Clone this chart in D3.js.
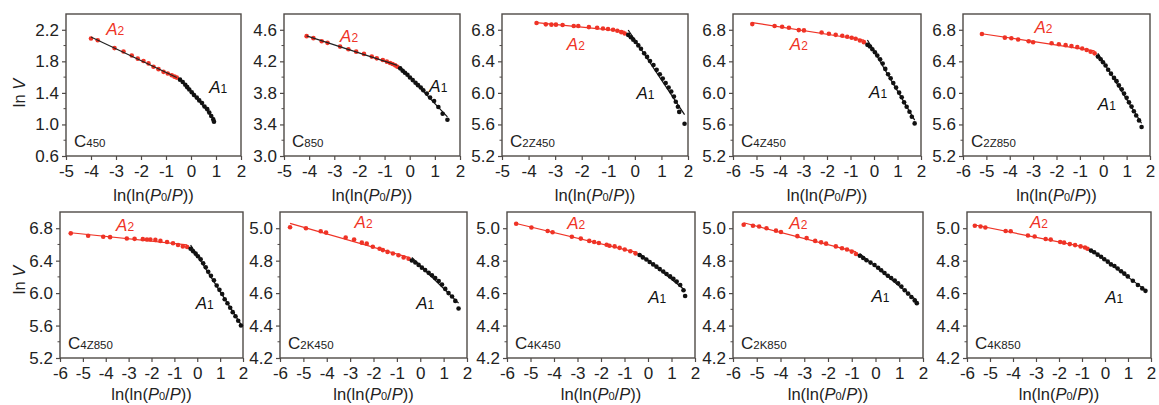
<!DOCTYPE html>
<html>
<head>
<meta charset="utf-8">
<script src="https://cdn.jsdelivr.net/npm/d3@7"></script>
<style>
  body { margin: 0; background: #fff; }
  svg { display: block; font-family: "Liberation Sans", Arial, sans-serif; }
</style>
</head>
<body>
<svg id="chart" width="1159" height="405"></svg>
<script>
// sample names (C + suffix)
const sampleNames = ["450", "850", "2Z450", "4Z450", "2Z850", "4Z850", "2K450", "4K450", "2K850", "4K850"];

// ln(ln(P0/P)) vs ln V, region A2 (red) and A1 (black)
const c450A2 = [[-4.0,2.09],[-3.73,2.067],[-3.06,1.968],[-2.70,1.925],[-2.37,1.873],[-2.13,1.834],[-1.90,1.804],[-1.70,1.774],[-1.50,1.731],[-1.30,1.701],[-1.10,1.667],[-0.93,1.645],[-0.77,1.624],[-0.66,1.606],[-0.57,1.594]];
const c450A1 = [[-0.44,1.568],[-0.33,1.538],[-0.23,1.503],[-0.15,1.473],[-0.07,1.443],[0.03,1.409],[0.12,1.374],[0.23,1.340],[0.33,1.305],[0.44,1.271],[0.54,1.228],[0.65,1.194],[0.73,1.150],[0.81,1.107],[0.89,1.064],[0.92,1.034]];
const c850A2 = [[-4.10,4.519],[-3.83,4.494],[-3.50,4.455],[-3.27,4.434],[-2.77,4.387],[-2.44,4.353],[-2.13,4.323],[-1.82,4.294],[-1.51,4.260],[-1.31,4.238],[-1.07,4.217],[-0.91,4.196],[-0.78,4.179],[-0.68,4.166],[-0.58,4.149],[-0.49,4.132]];
const c850A1 = [[-0.38,4.111],[-0.28,4.081],[-0.19,4.055],[-0.09,4.030],[0.01,3.996],[0.12,3.962],[0.23,3.928],[0.33,3.898],[0.44,3.868],[0.54,3.834],[0.68,3.791],[0.81,3.740],[0.97,3.698],[1.14,3.621],[1.31,3.536],[1.50,3.460]];
const c2z450A2 = [[-3.70,6.886],[-3.35,6.869],[-3.14,6.865],[-2.97,6.865],[-2.72,6.860],[-2.30,6.847],[-2.13,6.847],[-1.73,6.834],[-1.42,6.826],[-1.20,6.817],[-1.01,6.809],[-0.82,6.800],[-0.66,6.787],[-0.51,6.770],[-0.38,6.753]];
const c2z450A1 = [[-0.25,6.735],[-0.15,6.705],[-0.06,6.675],[0.03,6.645],[0.13,6.602],[0.23,6.559],[0.35,6.503],[0.46,6.456],[0.57,6.404],[0.70,6.353],[0.82,6.292],[0.94,6.237],[1.05,6.181],[1.16,6.125],[1.27,6.069],[1.37,6.017],[1.47,5.953],[1.54,5.888],[1.62,5.824],[1.67,5.759],[1.87,5.609]];
const c4z450A2 = [[-5.18,6.872],[-4.23,6.847],[-3.91,6.838],[-3.62,6.825],[-3.20,6.796],[-2.98,6.792],[-2.23,6.766],[-1.92,6.749],[-1.63,6.736],[-1.35,6.724],[-1.14,6.711],[-0.95,6.698],[-0.78,6.686],[-0.60,6.664],[-0.43,6.643]];
const c4z450A1 = [[-0.28,6.609],[-0.17,6.588],[-0.07,6.554],[0.04,6.516],[0.14,6.473],[0.26,6.427],[0.37,6.372],[0.48,6.304],[0.60,6.236],[0.71,6.185],[0.82,6.126],[0.94,6.067],[1.07,6.003],[1.18,5.944],[1.28,5.880],[1.39,5.825],[1.51,5.761],[1.61,5.698],[1.73,5.613]];
const c2z850A2 = [[-5.19,6.746],[-4.21,6.700],[-3.93,6.692],[-3.64,6.676],[-3.19,6.655],[-3.00,6.642],[-2.21,6.630],[-1.90,6.617],[-1.61,6.605],[-1.36,6.593],[-1.11,6.580],[-0.90,6.563],[-0.71,6.543],[-0.54,6.522],[-0.37,6.501]];
const c2z850A1 = [[-0.23,6.460],[-0.11,6.427],[-0.01,6.389],[0.10,6.348],[0.21,6.294],[0.33,6.244],[0.46,6.190],[0.57,6.149],[0.67,6.095],[0.79,6.045],[0.89,5.991],[1.00,5.937],[1.10,5.880],[1.21,5.826],[1.31,5.768],[1.41,5.713],[1.53,5.651],[1.64,5.568]];
const c4z850A2 = [[-5.53,6.737],[-4.77,6.707],[-4.11,6.694],[-3.81,6.690],[-3.08,6.673],[-2.74,6.669],[-2.38,6.665],[-2.20,6.661],[-2.05,6.661],[-1.83,6.656],[-1.61,6.644],[-1.32,6.631],[-1.06,6.614],[-0.84,6.593],[-0.63,6.576],[-0.44,6.568]];
const c4z850A1 = [[-0.29,6.547],[-0.18,6.517],[-0.07,6.487],[0.03,6.454],[0.15,6.416],[0.26,6.369],[0.37,6.318],[0.48,6.263],[0.60,6.213],[0.73,6.158],[0.85,6.094],[0.97,6.040],[1.09,5.989],[1.20,5.925],[1.32,5.875],[1.44,5.820],[1.55,5.765],[1.67,5.714],[1.79,5.659],[1.91,5.600]];
const c2k450A2 = [[-5.57,5.006],[-4.89,5.000],[-4.26,4.981],[-4.03,4.973],[-3.19,4.943],[-2.83,4.930],[-2.50,4.911],[-2.29,4.905],[-2.03,4.886],[-1.74,4.873],[-1.60,4.865],[-1.40,4.854],[-1.17,4.844],[-0.93,4.833],[-0.71,4.820],[-0.50,4.812]];
const c2k450A1 = [[-0.36,4.801],[-0.21,4.789],[-0.07,4.774],[0.07,4.757],[0.21,4.742],[0.36,4.725],[0.50,4.710],[0.64,4.693],[0.79,4.674],[0.93,4.653],[1.07,4.626],[1.21,4.600],[1.36,4.579],[1.50,4.552],[1.64,4.505]];
const c4k450A2 = [[-5.61,5.028],[-4.96,5.004],[-4.27,4.983],[-4.06,4.975],[-3.24,4.947],[-2.86,4.936],[-2.50,4.922],[-2.29,4.915],[-2.09,4.909],[-1.76,4.898],[-1.64,4.892],[-1.42,4.888],[-1.21,4.879],[-0.99,4.869],[-0.75,4.858],[-0.53,4.845]];
const c4k450A1 = [[-0.36,4.835],[-0.22,4.820],[-0.07,4.807],[0.07,4.792],[0.22,4.777],[0.36,4.763],[0.50,4.748],[0.65,4.733],[0.79,4.718],[0.94,4.703],[1.08,4.688],[1.22,4.671],[1.37,4.650],[1.51,4.618],[1.58,4.582]];
const c2k850A2 = [[-5.55,5.021],[-5.16,5.015],[-4.90,5.011],[-4.59,5.000],[-4.19,4.985],[-3.98,4.977],[-3.29,4.951],[-2.90,4.939],[-2.54,4.922],[-2.29,4.913],[-2.08,4.905],[-1.67,4.888],[-1.41,4.877],[-1.20,4.869],[-1.00,4.856],[-0.82,4.841]];
const c2k850A1 = [[-0.66,4.830],[-0.52,4.816],[-0.38,4.803],[-0.21,4.788],[-0.04,4.773],[0.11,4.756],[0.24,4.741],[0.38,4.724],[0.52,4.707],[0.66,4.693],[0.81,4.678],[0.95,4.661],[1.09,4.640],[1.23,4.618],[1.37,4.597],[1.51,4.576],[1.65,4.555],[1.74,4.538]];
const c4k850A2 = [[-5.66,5.015],[-5.41,5.011],[-5.20,5.004],[-4.32,4.983],[-4.10,4.981],[-3.35,4.955],[-3.06,4.949],[-2.58,4.934],[-2.36,4.930],[-1.95,4.915],[-1.78,4.911],[-1.53,4.902],[-1.30,4.896],[-1.06,4.888],[-0.87,4.881],[-0.76,4.873]];
const c4k850A1 = [[-0.61,4.862],[-0.47,4.852],[-0.32,4.837],[-0.17,4.824],[-0.03,4.809],[0.12,4.794],[0.26,4.777],[0.41,4.767],[0.55,4.752],[0.70,4.735],[0.84,4.720],[0.99,4.703],[1.21,4.676],[1.43,4.650],[1.62,4.629],[1.76,4.614]];

const seriesA2 = [c450A2, c850A2, c2z450A2, c4z450A2, c2z850A2, c4z850A2, c2k450A2, c4k450A2, c2k850A2, c4k850A2];
const seriesA1 = [c450A1, c850A1, c2z450A1, c4z450A1, c2z850A1, c4z850A1, c2k450A1, c4k450A1, c2k850A1, c4k850A1];

// axis ranges and tick labels
const xDomains = [[-5, 2], [-5, 2], [-5, 2], [-6, 2], [-6, 2], [-6, 2], [-6, 2], [-6, 2], [-6, 2], [-6, 2]];
const yDomains = [[0.6, 2.4], [3.0, 4.8], [5.2, 7.0], [5.2, 7.0], [5.2, 7.0], [5.2, 7.0], [4.2, 5.1], [4.2, 5.1], [4.2, 5.1], [4.2, 5.1]];
const yTickLabels = [
  [0.6, 1.0, 1.4, 1.8, 2.2], [3.0, 3.4, 3.8, 4.2, 4.6],
  [5.2, 5.6, 6.0, 6.4, 6.8], [5.2, 5.6, 6.0, 6.4, 6.8], [5.2, 5.6, 6.0, 6.4, 6.8], [5.2, 5.6, 6.0, 6.4, 6.8],
  [4.2, 4.4, 4.6, 4.8, 5.0], [4.2, 4.4, 4.6, 4.8, 5.0], [4.2, 4.4, 4.6, 4.8, 5.0], [4.2, 4.4, 4.6, 4.8, 5.0]
];

// layout: plot boxes in page pixels, and where the A2 / A1 labels sit (data coords)
const boxes = [
  [66, 241, 14, 156], [284, 460, 14, 156], [502, 688, 14, 156], [733, 921, 14, 156], [963, 1150, 14, 156],
  [60, 243, 212, 358], [280, 467, 212, 358], [507, 695, 212, 358], [733, 923, 212, 358], [967, 1151, 212, 358]
];
const a2Labels = [[-3.39, 2.13], [-2.77, 4.45], [-2.56, 6.54], [-3.58, 6.55], [-2.94, 6.76], [-3.55, 6.76], [-2.81, 5.0], [-3.44, 4.995], [-3.63, 4.995], [-3.26, 5.004]];
const a1Labels = [[0.73, 1.40], [0.78, 3.81], [0.06, 5.92], [-0.21, 5.93], [-0.23, 5.78], [-0.07, 5.81], [-0.17, 4.503], [0.01, 4.538], [-0.17, 4.544], [0.01, 4.538]];

const red = "#ef3326";
const frameColor = "#4f4a47";

const svg = d3.select("#chart");

function fit(points) {
  const mx = d3.mean(points, d => d[0]);
  const my = d3.mean(points, d => d[1]);
  const sxy = d3.sum(points, d => (d[0] - mx) * (d[1] - my));
  const sxx = d3.sum(points, d => (d[0] - mx) ** 2);
  const k = sxy / sxx;
  const [x0, x1] = d3.extent(points, d => d[0]);
  return [[x0, my + k * (x0 - mx)], [x1, my + k * (x1 - mx)]];
}

sampleNames.forEach((name, i) => {
  const [left, right, top, bottom] = boxes[i];
  const x = d3.scaleLinear().domain(xDomains[i]).range([left, right]);
  const y = d3.scaleLinear().domain(yDomains[i]).range([bottom, top]);
  const step = yTickLabels[i][1] - yTickLabels[i][0];
  const minor = d3.range(yDomains[i][0] + step / 2, yDomains[i][1] - 1e-6, step);

  const g = svg.append("g");

  // x axis
  g.append("g")
    .attr("transform", `translate(0,${bottom})`)
    .call(d3.axisBottom(x).tickValues(d3.range(xDomains[i][0], xDomains[i][1] + 1))
      .tickFormat(d => String(d)).tickSize(4).tickPadding(5).tickSizeOuter(0))
    .call(a => a.select(".domain").remove())
    .call(a => a.selectAll("line").attr("stroke", frameColor).attr("stroke-width", 1.2))
    .call(a => a.selectAll("text").attr("fill", "#222").style("font-size", "17px"));

  // y axis
  g.append("g")
    .attr("transform", `translate(${left},0)`)
    .call(d3.axisLeft(y).tickValues(yTickLabels[i]).tickFormat(d => d.toFixed(1))
      .tickSize(4).tickPadding(3).tickSizeOuter(0))
    .call(a => a.select(".domain").remove())
    .call(a => a.selectAll("line").attr("stroke", frameColor).attr("stroke-width", 1.2))
    .call(a => a.selectAll("text").attr("fill", "#222").style("font-size", "17px"));

  g.append("g")
    .selectAll("line")
    .data(minor)
    .join("line")
    .attr("x1", left - 2.5).attr("x2", left)
    .attr("y1", d => y(d)).attr("y2", d => y(d))
    .attr("stroke", frameColor).attr("stroke-width", 1);

  // frame
  g.append("rect")
    .attr("x", left).attr("y", top)
    .attr("width", right - left).attr("height", bottom - top)
    .attr("fill", "none").attr("stroke", frameColor).attr("stroke-width", 1.4);

  // points
  g.append("g").selectAll("circle")
    .data(seriesA2[i]).join("circle")
    .attr("cx", d => x(d[0])).attr("cy", d => y(d[1])).attr("r", 2.3)
    .attr("fill", red);
  g.append("g").selectAll("circle")
    .data(seriesA1[i]).join("circle")
    .attr("cx", d => x(d[0])).attr("cy", d => y(d[1])).attr("r", 2.3)
    .attr("fill", "#111");

  // fitted lines
  const line = d3.line().x(d => x(d[0])).y(d => y(d[1]));
  g.append("path")
    .attr("d", line(fit(seriesA2[i])))
    .attr("fill", "none")
    .attr("stroke", i < 2 ? "#222" : red)
    .attr("stroke-width", 1.2);
  g.append("path")
    .attr("d", line(fit(seriesA1[i])))
    .attr("fill", "none")
    .attr("stroke", "#111")
    .attr("stroke-width", 1.2);

  // region labels
  const a2 = g.append("text")
    .attr("x", x(a2Labels[i][0])).attr("y", y(a2Labels[i][1]))
    .attr("fill", red);
  a2.append("tspan").attr("font-style", "italic").style("font-size", "17px").text("A");
  a2.append("tspan").style("font-size", "12px").text("2");

  const a1 = g.append("text")
    .attr("x", x(a1Labels[i][0])).attr("y", y(a1Labels[i][1]))
    .attr("fill", "#111");
  a1.append("tspan").attr("font-style", "italic").style("font-size", "17px").text("A");
  a1.append("tspan").style("font-size", "12px").text("1");

  // sample label
  const lab = g.append("text")
    .attr("x", left + 8).attr("y", bottom - 9)
    .attr("fill", "#222");
  lab.append("tspan").style("font-size", "17px").text("C");
  lab.append("tspan").style("font-size", "11.5px").text(name);

  // x axis title
  const xt = g.append("text")
    .attr("x", (left + right) / 2).attr("y", bottom + (i < 5 ? 45 : 42))
    .attr("text-anchor", "middle")
    .attr("fill", "#222")
    .style("font-size", "16.5px");
  xt.append("tspan").text("ln(ln(");
  xt.append("tspan").attr("font-style", "italic").text("P");
  xt.append("tspan").style("font-size", "11px").text("0");
  xt.append("tspan").text("/");
  xt.append("tspan").attr("font-style", "italic").text("P");
  xt.append("tspan").text("))");

  // y axis title on the first panel of each row
  if (i === 0 || i === 5) {
    const yt = g.append("text")
      .attr("transform", `translate(25,${i === 0 ? 93 : 280}) rotate(-90)`)
      .attr("text-anchor", "middle")
      .attr("fill", "#222")
      .style("font-size", "16.5px");
    yt.append("tspan").text("ln ");
    yt.append("tspan").attr("font-style", "italic").text("V");
  }
});
</script>
</body>
</html>
